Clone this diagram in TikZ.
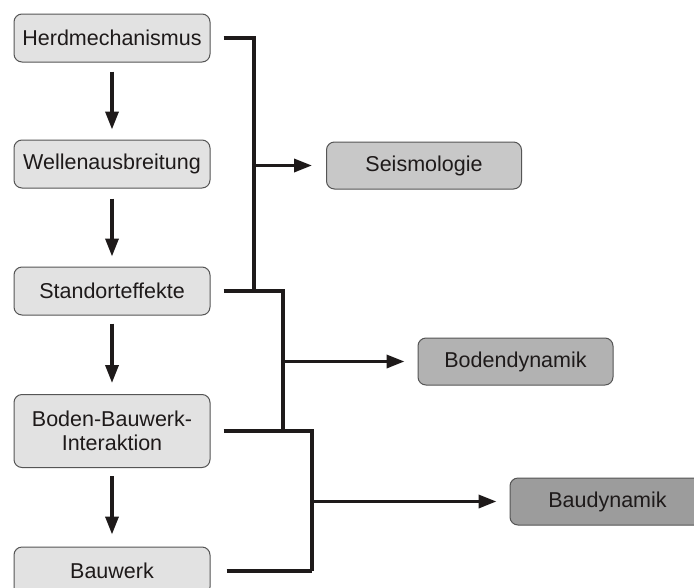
\documentclass[tikz,border=0pt]{standalone}
\usepackage{fontspec}
\setmainfont{Liberation Sans}
\usetikzlibrary{arrows.meta}
\definecolor{boxA}{HTML}{E2E2E2}
\definecolor{boxB}{HTML}{C8C8C8}
\definecolor{boxC}{HTML}{B2B2B2}
\definecolor{boxD}{HTML}{9C9C9C}
\definecolor{edge}{HTML}{555555}
\definecolor{ink}{HTML}{1E1A1A}
\tikzset{
  box/.style={draw=edge, line width=1pt, rounded corners=8pt, minimum height=48pt,
    align=center, text=ink, font=\fontsize{21.5}{24}\selectfont, inner sep=0pt},
  leftbox/.style={box, fill=boxA, minimum width=196pt},
  rightbox/.style={box, minimum width=195pt, minimum height=47pt},
  conn/.style={draw=ink, line width=3.5pt},
  arr/.style={conn, -{Triangle[length=18pt,width=13pt]}},
}
\begin{document}
\begin{tikzpicture}[x=1pt,y=-1pt]
\useasboundingbox (0,0) rectangle (694,587);
\fill[white] (0,0) rectangle (694,587);
\node[leftbox] (herd) at (112,38) {Herdmechanismus};
\node[leftbox] (welle) at (112,164) {Wellenausbreitung};
\node[leftbox] (stand) at (112,291) {Standorteffekte};
\node[leftbox, minimum height=73pt] (boden) at (112,431) {Boden-Bauwerk-\\Interaktion};
\node[leftbox] (bau) at (112,571) {Bauwerk};
\node[rightbox, fill=boxB] (seis) at (424,165.5) {Seismologie};
\node[rightbox, fill=boxC] (bdyn) at (515.5,361.5) {Bodendynamik};
\node[rightbox, fill=boxD] (baud) at (607.5,501.5) {Baudynamik};

\draw[arr] ([yshift=-9pt]herd.south) -- ([yshift=10pt]welle.north);
\draw[arr] ([yshift=-10pt]welle.south) -- ([yshift=10pt]stand.north);
\draw[arr] ([yshift=-8pt]stand.south) -- ([yshift=11pt]boden.north);
\draw[arr] ([yshift=-8pt]boden.south) -- ([yshift=12pt]bau.north);

\coordinate (v1) at (254,292);
\coordinate (v2) at (283,432);
\coordinate (v3) at (312,571);
\draw[conn] ([xshift=13pt]herd.east) -| (v1);
\draw[conn] ([xshift=13pt]stand.east) -| (v2);
\draw[conn] ([xshift=13pt]boden.east) -| (v3);
\draw[conn] ([xshift=16pt]bau.east) -- (v3);

\coordinate (b1) at (254,165.5);
\coordinate (b2) at (283,361.5);
\coordinate (b3) at (312,501.5);
\draw[arr] (b1) -- ([xshift=-14pt]seis.west);
\draw[arr] (b2) -- ([xshift=-13pt]bdyn.west);
\draw[arr] (b3) -- ([xshift=-13pt]baud.west);
\end{tikzpicture}
\end{document}
